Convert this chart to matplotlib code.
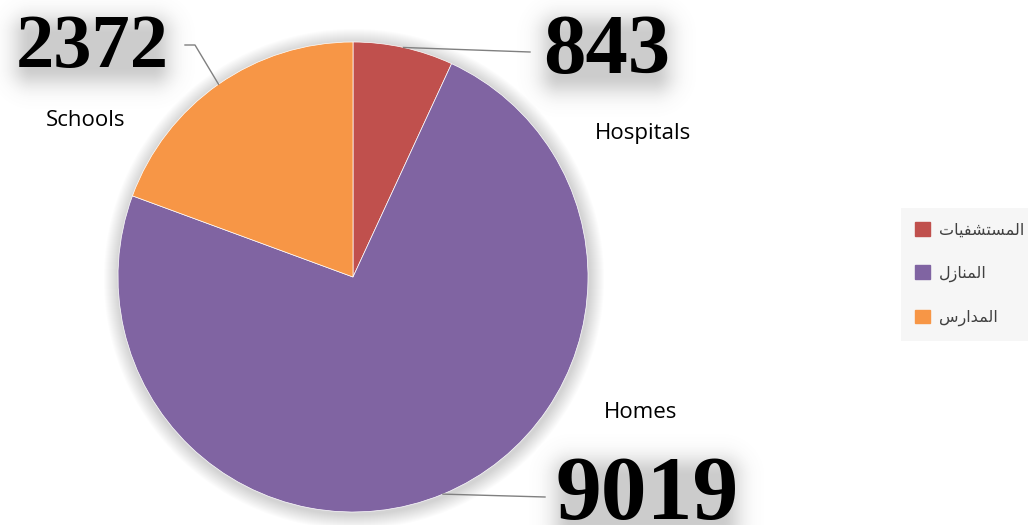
import numpy as np
import matplotlib
matplotlib.use("Agg")
import matplotlib.pyplot as plt
from matplotlib.patches import Circle

# data
categories = ["Hospitals", "Homes", "Schools"]
legend_ar = ["المستشفيات", "المنازل", "المدارس"]
values = [843, 9019, 2372]
colors = ["#C0504D", "#8064A2", "#F79646"]

# Arabic glyph forms: isolated, final, initial, medial (None = does not join forward)
FORMS = {
    "ا": ("\uFE8D", "\uFE8E", None, None),
    "د": ("\uFEA9", "\uFEAA", None, None),
    "ر": ("\uFEAD", "\uFEAE", None, None),
    "ز": ("\uFEAF", "\uFEB0", None, None),
    "ل": ("\uFEDD", "\uFEDE", "\uFEDF", "\uFEE0"),
    "م": ("\uFEE1", "\uFEE2", "\uFEE3", "\uFEE4"),
    "س": ("\uFEB1", "\uFEB2", "\uFEB3", "\uFEB4"),
    "ش": ("\uFEB5", "\uFEB6", "\uFEB7", "\uFEB8"),
    "ت": ("\uFE95", "\uFE96", "\uFE97", "\uFE98"),
    "ف": ("\uFED1", "\uFED2", "\uFED3", "\uFED4"),
    "ي": ("\uFEF1", "\uFEF2", "\uFEF3", "\uFEF4"),
    "ن": ("\uFEE5", "\uFEE6", "\uFEE7", "\uFEE8"),
}


def shape_arabic(word):
    # matplotlib has no text shaping, so pick joined forms and lay out right-to-left
    out = []
    for i, ch in enumerate(word):
        iso, fin, ini, med = FORMS[ch]
        joins_prev = i > 0 and FORMS[word[i - 1]][2] is not None
        joins_next = i < len(word) - 1 and ini is not None
        if joins_prev and joins_next:
            out.append(med)
        elif joins_prev:
            out.append(fin)
        elif joins_next:
            out.append(ini)
        else:
            out.append(iso)
    return "".join(reversed(out))


def glow_behind(ax, bbox, pad=50, sigma=20, shrink=(16, 20), strength=0.36):
    # soft grey halo around a text box, drawn as an RGBA image in pixel units
    x0, y0, x1, y1 = bbox.x0 + shrink[0], bbox.y0 + shrink[1], bbox.x1 - shrink[0], bbox.y1 - shrink[1]
    y0 -= 4  # halo sits a little low
    gx = np.arange(x0 - pad, x1 + pad)
    gy = np.arange(y0 - pad, y1 + pad)
    X, Y = np.meshgrid(gx, gy)
    dx = np.maximum(np.maximum(x0 - X, X - x1), 0)
    dy = np.maximum(np.maximum(y0 - Y, Y - y1), 0)
    d = np.hypot(dx, dy)
    alpha = strength * np.exp(-(d / sigma) ** 2)
    img = np.zeros(X.shape + (4,))
    img[..., :3] = 0.45
    img[..., 3] = alpha
    ax.imshow(img, extent=(gx[0], gx[-1], gy[0], gy[-1]), origin="lower",
              interpolation="bilinear", zorder=3.5)


W, H = 1028, 525
fig = plt.figure(figsize=(W / 100, H / 100), dpi=100)
ax = fig.add_axes([0, 0, 1, 1])

cx, cy, r = 353, 248, 235

# soft shadow under the pie
for k in range(1, 16):
    ax.add_patch(Circle((cx + 1, cy - 2), r + k, color="#808080", alpha=0.022, lw=0, zorder=0))

wedges, _ = ax.pie(values, colors=colors, startangle=90, counterclock=False,
                   center=(cx, cy), radius=r, frame=True,
                   wedgeprops=dict(linewidth=0.5, edgecolor="white"))
ax.set_xlim(0, W)
ax.set_ylim(0, H)
ax.set_aspect("equal")
ax.axis("off")

# value label placement: (text anchor, line end near text, elbow or None, font size)
value_pos = [
    ((607, 452), (530, 473), None, 61),
    ((647, 6), (545, 28), None, 66),
    ((92, 458), (185, 480), (195, 480), 55),
]
name_pos = [(643, 392), (641, 113), (86, 405)]

value_texts = []
for w, val, name, (tpos, lend, elbow, fs), npos in zip(wedges, values, categories, value_pos, name_pos):
    mid = np.deg2rad((w.theta1 + w.theta2) / 2)
    edge = (cx + r * np.cos(mid), cy + r * np.sin(mid))
    pts = [edge] + ([elbow] if elbow else []) + [lend]
    xs, ys = zip(*pts)
    ax.plot(xs, ys, color="#808080", lw=1.0, zorder=3)
    t = ax.text(tpos[0], tpos[1], f"{val}", ha="center", va="baseline", fontsize=fs,
                family="Liberation Serif", weight="bold", color="black", zorder=4)
    value_texts.append(t)
    ax.text(npos[0], npos[1], name, ha="center", va="center", fontsize=16,
            family="Open Sans", color="black", zorder=4)

fig.canvas.draw()
for t in value_texts:
    glow_behind(ax, t.get_window_extent())
ax.set_xlim(0, W)
ax.set_ylim(0, H)

handles = [plt.Rectangle((0, 0), 1, 1, color=c) for c in colors]
leg = ax.legend(handles, [shape_arabic(s) for s in legend_ar], loc="upper left",
                bbox_to_anchor=(901 / W, 317 / H), borderaxespad=0,
                frameon=True, fancybox=False,
                facecolor="#f6f6f6", edgecolor="none", framealpha=1,
                prop={"family": "DejaVu Sans", "size": 11.5}, labelcolor="#404040",
                handlelength=0.9, handleheight=0.9, handletextpad=0.6,
                labelspacing=1.75, borderpad=0.9)

fig.savefig("out.png", dpi=100)
